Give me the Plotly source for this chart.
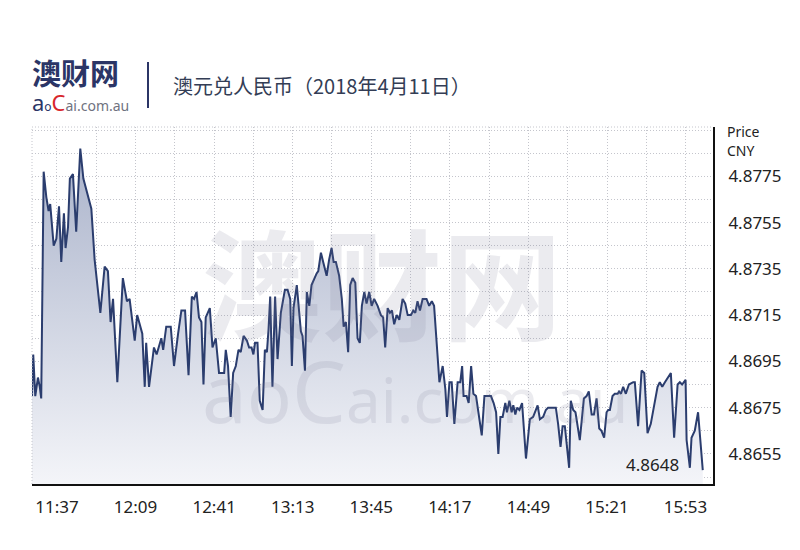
import plotly.graph_objects as go

date = "2018-04-11"
title_text = "澳元兑人民币（2018年4月11日）"

times = [
    "11:26:50", "11:27:20", "11:28:10", "11:29:15", "11:30:00", "11:30:35", "11:31:35", "11:32:40", "11:33:35", "11:34:15",
    "11:35:40", "11:36:45", "11:37:50", "11:38:45", "11:39:50", "11:40:30", "11:41:30", "11:42:15", "11:43:30", "11:44:50",
    "11:46:30", "11:47:45", "11:51:00", "11:52:20", "11:54:40", "11:56:25", "11:57:45", "11:58:50", "11:59:50", "12:01:35",
    "12:03:50", "12:05:30", "12:06:35", "12:08:40", "12:09:40", "12:11:45", "12:12:45", "12:13:20", "12:14:30", "12:16:30",
    "12:17:35", "12:19:30", "12:20:15", "12:21:30", "12:23:20", "12:24:40", "12:26:20", "12:27:40", "12:29:10", "12:30:35",
    "12:31:55", "12:32:50", "12:33:50", "12:34:50", "12:35:50", "12:36:40", "12:37:35", "12:39:15", "12:40:20", "12:41:40",
    "12:43:00", "12:45:05", "12:45:45", "12:46:40", "12:47:45", "12:48:45", "12:49:50", "12:50:55", "12:51:50", "12:53:00",
    "12:54:20", "12:55:15", "12:56:15", "12:57:00", "12:57:40", "12:58:40", "12:59:35", "13:00:45", "13:01:40", "13:02:30",
    "13:03:10", "13:03:50", "13:04:45", "13:05:50", "13:06:50", "13:08:10", "13:09:50", "13:10:55", "13:12:00", "13:12:40",
    "13:13:20", "13:14:40", "13:15:40", "13:16:20", "13:17:00", "13:18:00", "13:18:45", "13:19:45", "13:20:40", "13:21:45",
    "13:22:45", "13:23:25", "13:24:30", "13:25:25", "13:26:50", "13:27:50", "13:28:50", "13:29:40", "13:30:35", "13:31:55",
    "13:33:00", "13:33:45", "13:34:40", "13:35:35", "13:36:25", "13:37:25", "13:38:30", "13:39:25", "13:40:20", "13:41:10",
    "13:42:10", "13:43:05", "13:44:10", "13:45:10", "13:46:10", "13:47:35", "13:48:55", "13:49:50", "13:50:40", "13:51:40",
    "13:52:35", "13:53:25", "13:54:20", "13:55:20", "13:56:25", "13:57:45", "13:58:50", "13:59:50", "14:01:10", "14:02:05",
    "14:02:55", "14:03:50", "14:04:50", "14:05:55", "14:07:30", "14:08:35", "14:09:40", "14:10:35",
    "14:12:45", "14:14:05", "14:15:10", "14:15:50", "14:16:50", "14:17:45", "14:18:50", "14:20:10", "14:21:15", "14:22:00",
    "14:22:35", "14:23:50", "14:24:40", "14:25:40", "14:26:35", "14:27:40", "14:28:45", "14:30:00", "14:31:05", "14:33:45",
    "14:34:50", "14:35:50", "14:36:45", "14:37:35", "14:38:30", "14:39:35", "14:40:15", "14:41:15", "14:42:10", "14:42:50",
    "14:43:40", "14:44:20", "14:45:20", "14:46:25", "14:48:00", "14:49:35", "14:50:55", "14:52:00", "14:52:45", "14:53:40",
    "14:55:00", "14:56:05", "14:57:00", "15:00:10", "15:01:05", "15:02:05", "15:02:55", "15:03:50", "15:04:45", "15:05:35",
    "15:06:15", "15:07:15", "15:08:10", "15:09:55", "15:11:35", "15:12:40", "15:13:35", "15:14:45", "15:15:40", "15:16:45",
    "15:17:50", "15:18:45", "15:19:50", "15:20:50", "15:21:30", "15:22:10", "15:23:15", "15:24:10", "15:25:20", "15:25:55",
    "15:26:40", "15:27:35", "15:28:40", "15:29:55", "15:31:40", "15:32:20", "15:33:40", "15:35:05", "15:36:10", "15:37:30",
    "15:38:50", "15:40:10", "15:41:35", "15:42:30", "15:43:30", "15:44:35", "15:47:00", "15:48:20", "15:49:45", "15:50:40",
    "15:51:35", "15:53:00", "15:53:25", "15:54:45", "15:55:25", "15:56:45", "15:58:05", "16:00:00",
]

prices = [
    4.8680, 4.8698, 4.8680, 4.8688, 4.8684, 4.8679, 4.8777, 4.8766, 4.8760, 4.8763,
    4.8745, 4.8748, 4.8762, 4.8738, 4.8759, 4.8744, 4.8753, 4.8774, 4.8776, 4.8751,
    4.8787, 4.8774, 4.8761, 4.8739, 4.8716, 4.8736, 4.8734, 4.8712, 4.8722, 4.8686,
    4.8731, 4.8721, 4.8722, 4.8704, 4.8715, 4.8707, 4.8684, 4.8703, 4.8684, 4.8701,
    4.8698, 4.8705, 4.8700, 4.8710, 4.8710, 4.8693, 4.8707, 4.8717, 4.8717, 4.8689,
    4.8723, 4.8722, 4.8725, 4.8714, 4.8712, 4.8685, 4.8714, 4.8718, 4.8701, 4.8705,
    4.8690, 4.8690, 4.8700, 4.8693, 4.8671, 4.8690, 4.8693, 4.8700, 4.8699, 4.8706,
    4.8704, 4.8701, 4.8701, 4.8698, 4.8703, 4.8703, 4.8678, 4.8674, 4.8700, 4.8699,
    4.8709, 4.8723, 4.8684, 4.8723, 4.8696, 4.8716, 4.8726, 4.8726, 4.8722, 4.8693,
    4.8718, 4.8728, 4.8716, 4.8708, 4.8706, 4.8691, 4.8725, 4.8719, 4.8728, 4.8731,
    4.8733, 4.8734, 4.8742, 4.8738, 4.8732, 4.8739, 4.8744, 4.8738, 4.8738, 4.8732,
    4.8722, 4.8710, 4.8712, 4.8699, 4.8728, 4.8731, 4.8729, 4.8705, 4.8703, 4.8719,
    4.8725, 4.8720, 4.8725, 4.8719, 4.8722, 4.8719, 4.8715, 4.8714, 4.8701, 4.8718,
    4.8716, 4.8717, 4.8711, 4.8715, 4.8713, 4.8722, 4.8720, 4.8715, 4.8715, 4.8717,
    4.8716, 4.8721, 4.8717, 4.8722, 4.8722, 4.8719, 4.8721, 4.8719,
    4.8686, 4.8693, 4.8683, 4.8671, 4.8686, 4.8686, 4.8668, 4.8686, 4.8686, 4.8693,
    4.8680, 4.8680, 4.8677, 4.8693, 4.8681, 4.8680, 4.8673, 4.8663, 4.8680, 4.8680,
    4.8677, 4.8673, 4.8655, 4.8671, 4.8671, 4.8677, 4.8673, 4.8678, 4.8673, 4.8676,
    4.8672, 4.8675, 4.8674, 4.8677, 4.8653, 4.8670, 4.8671, 4.8674, 4.8676, 4.8670,
    4.8671, 4.8674, 4.8675, 4.8675, 4.8668, 4.8658, 4.8667, 4.8667, 4.8658, 4.8649,
    4.8678, 4.8674, 4.8673, 4.8661, 4.8679, 4.8680, 4.8682, 4.8672, 4.8672, 4.8679,
    4.8666, 4.8665, 4.8662, 4.8673, 4.8674, 4.8674, 4.8680, 4.8681, 4.8681, 4.8682,
    4.8681, 4.8684, 4.8681, 4.8685, 4.8686, 4.8686, 4.8667, 4.8691, 4.8690, 4.8664,
    4.8668, 4.8676, 4.8684, 4.8686, 4.8684, 4.8686, 4.8690, 4.8662, 4.8685, 4.8686,
    4.8685, 4.8687, 4.8661, 4.8649, 4.8662, 4.8665, 4.8673, 4.8648,
]

x_tick_labels = ["11:37", "12:09", "12:41", "13:13", "13:45", "14:17", "14:49", "15:21", "15:53"]
y_tick_values = [4.8655, 4.8675, 4.8695, 4.8715, 4.8735, 4.8755, 4.8775]
last_label = "4.8648"

x = [f"{date} {t}" for t in times]

W, H = 800, 550
L, R, T, B = 32, 87, 127, 66
pw, ph = W - L - R, H - T - B


def px(v):
    return (v - L) / pw


def py(v):
    return (H - B - v) / ph


LATIN = "Noto Sans, Open Sans, sans-serif"
CJK = "Noto Sans CJK SC, Noto Sans, sans-serif"
MIXED = "Noto Sans, Noto Sans CJK SC, sans-serif"
NAVY = "#2b3566"
GRID = "#c4c5cc"
GDASH = "1px,2px"

fig = go.Figure()
fig.add_trace(go.Scatter(
    x=x, y=prices, mode="lines",
    line=dict(color="#2b3d6e", width=2),
    fill="tozeroy",
    fillgradient=dict(type="vertical", start=4.8642, stop=4.8790,
                      colorscale=[[0, "#f4f5f9"], [1, "#a9b2ca"]]),
    hoverinfo="skip", showlegend=False,
))

fig.update_layout(
    width=W, height=H,
    margin=dict(l=L, r=R, t=T, b=B, pad=0),
    paper_bgcolor="white", plot_bgcolor="white",
    showlegend=False,
    xaxis=dict(
        type="date",
        range=[f"{date} 11:26:50", f"{date} 16:04:10"],
        tickvals=[f"{date} {t}" for t in x_tick_labels],
        ticktext=x_tick_labels,
        showgrid=True, gridcolor=GRID, griddash=GDASH, gridwidth=1,
        minor=dict(dtick=16 * 60 * 1000, tick0=f"{date} 11:37", showgrid=True,
                   gridcolor=GRID, griddash=GDASH, gridwidth=1),
        showline=True, linecolor="#111", linewidth=2,
        ticks="", ticklabelstandoff=7,
        tickfont=dict(family=LATIN, size=17, color="#222"),
        zeroline=False,
    ),
    yaxis=dict(
        side="right",
        range=[4.86420, 4.87963],
        tickvals=y_tick_values,
        ticktext=[f"{v:.4f}" for v in y_tick_values],
        showgrid=True, gridcolor=GRID, griddash=GDASH, gridwidth=1,
        minor=dict(dtick=0.001, tick0=4.8655, showgrid=True,
                   gridcolor=GRID, griddash=GDASH, gridwidth=1),
        showline=True, linecolor="#111", linewidth=2,
        ticks="", ticklabelstandoff=10,
        tickfont=dict(family=LATIN, size=17, color="#222"),
        zeroline=False,
    ),
)

shapes = [
    dict(type="line", xref="paper", yref="paper", x0=0, x1=1, y0=1, y1=1,
         line=dict(color=GRID, width=1, dash=GDASH)),
    dict(type="line", xref="paper", yref="paper", x0=0, x1=0, y0=0, y1=1,
         line=dict(color=GRID, width=1, dash=GDASH)),
    dict(type="line", xref="paper", yref="paper", x0=px(148), x1=px(148), y0=py(62), y1=py(108),
         line=dict(color=NAVY, width=2)),
]
fig.update_layout(shapes=shapes)

watermark = ("<b><span style='font-size:120px'>澳财网</span></b><br>"
             "<span style='font-size:80px'>a</span><span style='font-size:74px'>o</span>"
             "<span style='font-size:86px'>C</span><span style='font-size:62px'>ai.com.au</span>")

logo = ("<b><span style='font-size:29px;color:#2b3566'>澳财网</span></b><br>"
        "<span style='font-size:22px;color:#2b3566'>a</span>"
        "<span style='font-size:12px;color:#2b3566'>o</span>"
        "<span style='font-size:22px;color:#d8262c'>C</span>"
        "<span style='font-size:14px;color:#6f7280'>ai.com.au</span>")

annotations = [
    dict(text=watermark, x=px(200), y=py(326), xref="paper", yref="paper",
         xanchor="left", yanchor="middle", align="left", showarrow=False,
         font=dict(family=MIXED, size=70, color="rgba(120,124,145,0.15)")),
    dict(text=logo, x=px(30), y=py(86), xref="paper", yref="paper",
         xanchor="left", yanchor="middle", align="left", showarrow=False,
         font=dict(family=MIXED, size=20, color=NAVY)),
    dict(text=title_text, x=px(171), y=py(85), xref="paper", yref="paper",
         xanchor="left", yanchor="middle", showarrow=False,
         font=dict(family=CJK, size=20, color="#333d55")),
    dict(text="Price", x=px(725), y=py(132), xref="paper", yref="paper",
         xanchor="left", yanchor="middle", showarrow=False,
         font=dict(family=LATIN, size=14, color="#222")),
    dict(text="CNY", x=px(725), y=py(150), xref="paper", yref="paper",
         xanchor="left", yanchor="middle", showarrow=False,
         font=dict(family=LATIN, size=14, color="#222")),
    dict(text=last_label, x=x[-1], y=prices[-1], xref="x", yref="y",
         xanchor="right", yanchor="middle", xshift=-22, yshift=6, showarrow=False,
         font=dict(family=LATIN, size=17, color="#222")),
]
fig.update_layout(annotations=annotations)

fig.write_html("out.html")
